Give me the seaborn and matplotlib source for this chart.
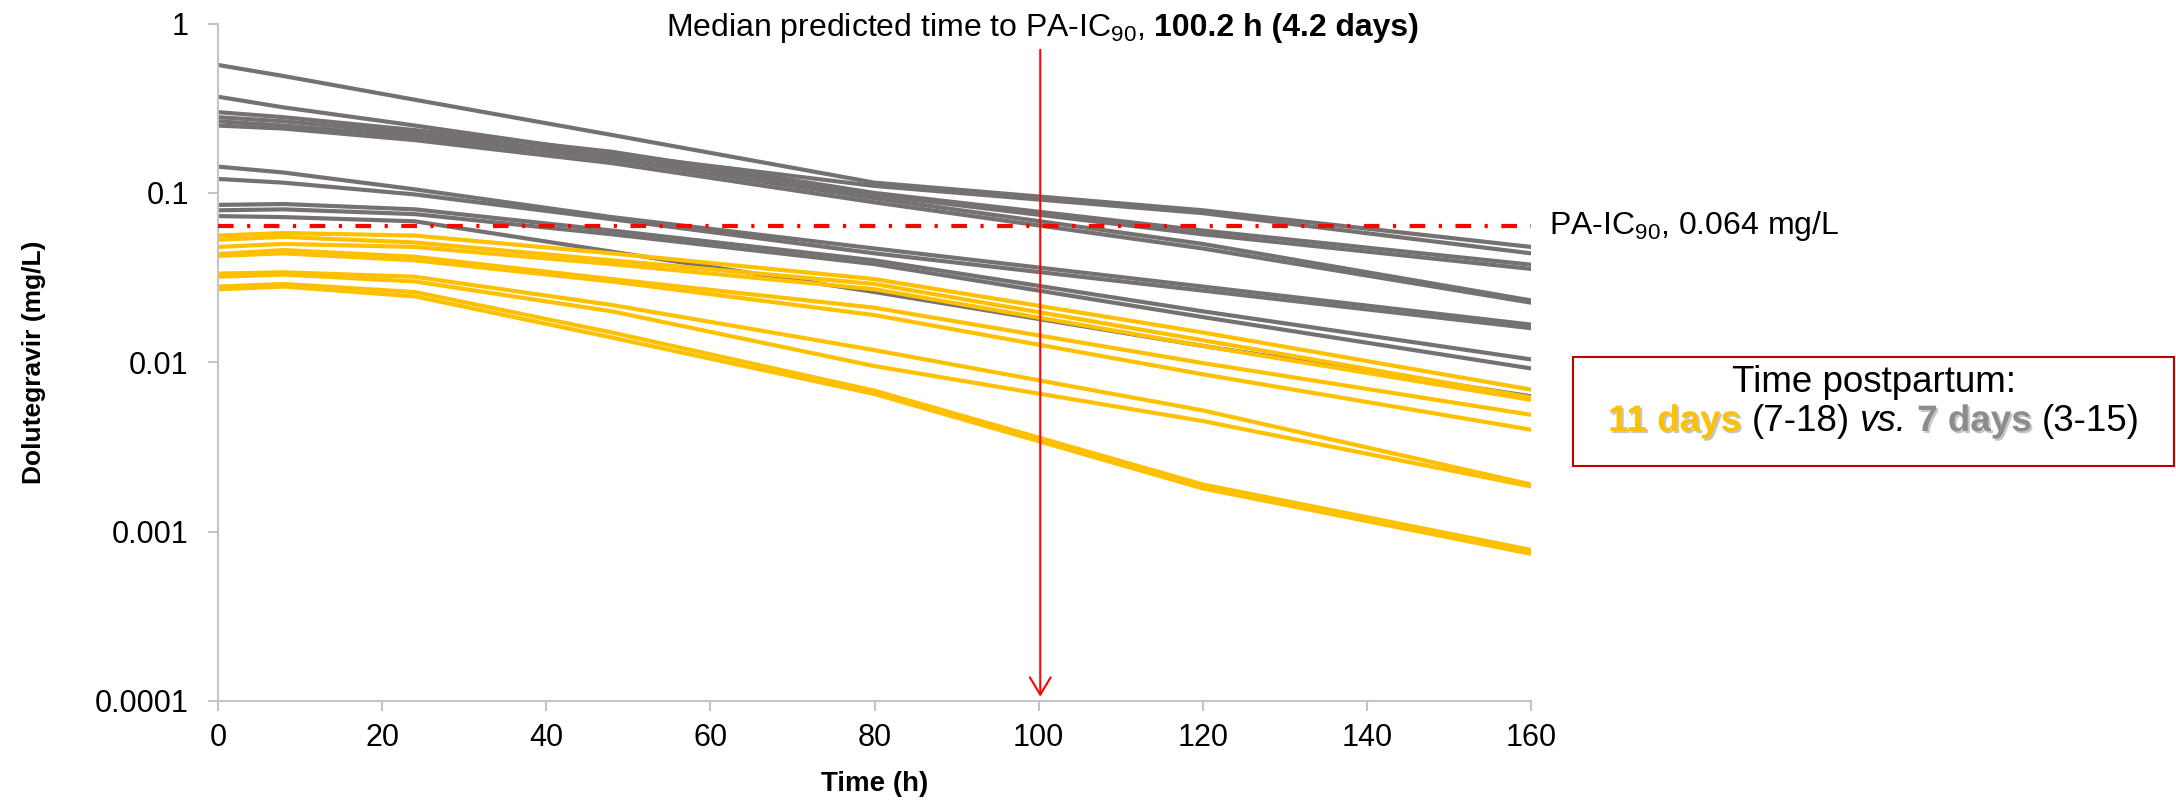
import matplotlib
matplotlib.use("Agg")
import matplotlib.pyplot as plt
import matplotlib.patches as mpatches
import matplotlib.patheffects as pe
import matplotlib.ticker as mtick
import pandas as pd
import seaborn as sns

sns.set_style("white")
plt.rcParams["font.family"] = ["Liberation Sans", "DejaVu Sans"]
plt.rcParams["text.color"] = "black"
plt.rcParams["axes.labelcolor"] = "black"
plt.rcParams["mathtext.fontset"] = "custom"
plt.rcParams["mathtext.rm"] = "Liberation Sans"
plt.rcParams["mathtext.it"] = "Liberation Sans:italic"
plt.rcParams["mathtext.bf"] = "Liberation Sans:bold"

# cores
cinza = "#767171"
amarelo = "#FFC000"
vermelho = "#FF0000"
eixo = "#C4C4C4"

# dados
tempos = [0, 8, 24, 48, 80, 120, 160]

curvas_cinza = [
    [0.57, 0.49, 0.355, 0.22, 0.115, 0.079, 0.048],
    [0.37, 0.32, 0.25, 0.17, 0.11, 0.076, 0.044],
    [0.30, 0.28, 0.235, 0.175, 0.10, 0.060, 0.0377],
    [0.28, 0.265, 0.225, 0.165, 0.097, 0.057, 0.0356],
    [0.265, 0.25, 0.215, 0.158, 0.093, 0.050, 0.0232],
    [0.25, 0.24, 0.205, 0.150, 0.088, 0.047, 0.0225],
    [0.143, 0.132, 0.105, 0.072, 0.047, 0.028, 0.0167],
    [0.121, 0.115, 0.098, 0.070, 0.044, 0.0265, 0.0159],
    [0.085, 0.086, 0.080, 0.060, 0.040, 0.020, 0.0104],
    [0.079, 0.080, 0.075, 0.057, 0.038, 0.0185, 0.0092],
    [0.073, 0.072, 0.068, 0.045, 0.026, 0.0125, 0.0063],
]

curvas_amarelo = [
    [0.056, 0.058, 0.056, 0.044, 0.031, 0.015, 0.0069],
    [0.053, 0.055, 0.051, 0.040, 0.029, 0.0135, 0.0062],
    [0.048, 0.050, 0.048, 0.038, 0.027, 0.0125, 0.0060],
    [0.0436, 0.046, 0.042, 0.031, 0.021, 0.0099, 0.0049],
    [0.0425, 0.044, 0.040, 0.030, 0.019, 0.0085, 0.0040],
    [0.0334, 0.034, 0.032, 0.0218, 0.0118, 0.0052, 0.0019],
    [0.032, 0.033, 0.030, 0.020, 0.0095, 0.0045, 0.00185],
    [0.028, 0.029, 0.026, 0.015, 0.0068, 0.0019, 0.00078],
    [0.027, 0.028, 0.0245, 0.014, 0.0065, 0.0018, 0.00074],
]

pa_ic90 = 0.064
tempo_mediano = 100.2
ticks_x = [0, 20, 40, 60, 80, 100, 120, 140, 160]
ticks_y = [0.0001, 0.001, 0.01, 0.1, 1]
rotulos_y = ["0.0001", "0.001", "0.01", "0.1", "1"]

linhas = []
for grupo, curvas in [("cinza", curvas_cinza), ("amarelo", curvas_amarelo)]:
    for i, curva in enumerate(curvas):
        for t, c in zip(tempos, curva):
            linhas.append({"grupo": grupo, "id": f"{grupo}{i}", "tempo": t, "conc": c})
df = pd.DataFrame(linhas)


def texto_composto(fig, pedacos, x_centro, y, tamanho):
    """Escreve pedaços de texto com estilos diferentes numa linha, centrada em x_centro."""
    renderer = fig.canvas.get_renderer()
    espaco = 0.278 * tamanho * fig.dpi / 72 / fig.bbox.width
    textos, larguras = [], []
    for s, props in pedacos:
        t = fig.text(0, y, s, ha="left", va="baseline", fontsize=tamanho, **props)
        textos.append(t)
        larguras.append(t.get_window_extent(renderer).width / fig.bbox.width)
    total = sum(larguras) + espaco * (len(textos) - 1)
    x = x_centro - total / 2
    for t, w in zip(textos, larguras):
        t.set_x(x)
        x += w + espaco
    return textos


W, H = 2176, 801
fig = plt.figure(figsize=(W / 100, H / 100), dpi=100)
ax = fig.add_axes([218 / W, 1 - 701 / H, (1531 - 218) / W, (701 - 23.6) / H])

sns.lineplot(data=df, x="tempo", y="conc", hue="grupo", units="id", estimator=None,
             hue_order=["cinza", "amarelo"], palette={"cinza": cinza, "amarelo": amarelo},
             lw=3.0, legend=False, ax=ax)

ax.set_yscale("log")
ax.set_ylim(1e-4, 1)
ax.set_xlim(0, 160)
ax.set_yticks(ticks_y)
ax.set_yticklabels(rotulos_y)
ax.yaxis.set_minor_locator(mtick.NullLocator())
ax.set_xticks(ticks_x)

for spine in ["top", "right"]:
    ax.spines[spine].set_visible(False)
for spine in ["left", "bottom"]:
    ax.spines[spine].set_color(eixo)
    ax.spines[spine].set_linewidth(1.5)
ax.tick_params(direction="out", length=7, width=1.5, color=eixo, labelsize=22,
               labelcolor="black", left=True, bottom=True)
ax.tick_params(axis="y", pad=14)
ax.tick_params(axis="x", pad=9)

ax.set_xlabel("Time (h)", fontsize=20, fontweight="bold")
ax.set_ylabel("Dolutegravir (mg/L)", fontsize=19, fontweight="bold")
ax.xaxis.set_label_coords(0.5, -0.103)
ax.yaxis.set_label_coords(-0.131, 0.5)

# linha do PA-IC90
ax.axhline(pa_ic90, color=vermelho, lw=3, linestyle=(0, (3.75, 3.25, 0.75, 3.25)), zorder=5)
ax.text(162.2, pa_ic90, "PA-IC$_{90}$, 0.064 mg/L", va="center", ha="left",
        fontsize=23, clip_on=False)

# seta do tempo mediano
ax.annotate("", xy=(tempo_mediano, 1.06e-4), xytext=(tempo_mediano, 0.70),
            arrowprops=dict(arrowstyle="->, head_length=0.5, head_width=0.3",
                            color=vermelho, lw=1.5, mutation_scale=25,
                            shrinkA=0, shrinkB=0),
            annotation_clip=False, zorder=6)

fig.canvas.draw()

texto_composto(fig, [
    ("Median predicted time to PA-IC$_{90}$,", {}),
    ("100.2 h (4.2 days)", {"fontweight": "bold"}),
], (218 + 100.5 * 8.206) / W, 1 - 36 / H, 23)

# caixa do tempo pós-parto
fig.patches.append(mpatches.Rectangle((1573 / W, 1 - 466 / H), (2174 - 1573) / W, (466 - 357) / H,
                                      transform=fig.transFigure, fill=False,
                                      edgecolor="#C00000", lw=1.5))
sombra = [pe.withSimplePatchShadow(offset=(1.5, -1.5), shadow_rgbFace="#7F7F7F", alpha=0.45)]
texto_composto(fig, [("Time postpartum:", {})], 1874 / W, 1 - 392 / H, 26.5)
texto_composto(fig, [
    ("11 days", {"fontweight": "bold", "color": amarelo, "path_effects": sombra}),
    ("(7-18)", {}),
    ("vs.", {"fontstyle": "italic"}),
    ("7 days", {"fontweight": "bold", "color": "#8C8C8C", "path_effects": sombra}),
    ("(3-15)", {}),
], 1874 / W, 1 - 431 / H, 26.5)

fig.savefig("out.png", dpi=100)
